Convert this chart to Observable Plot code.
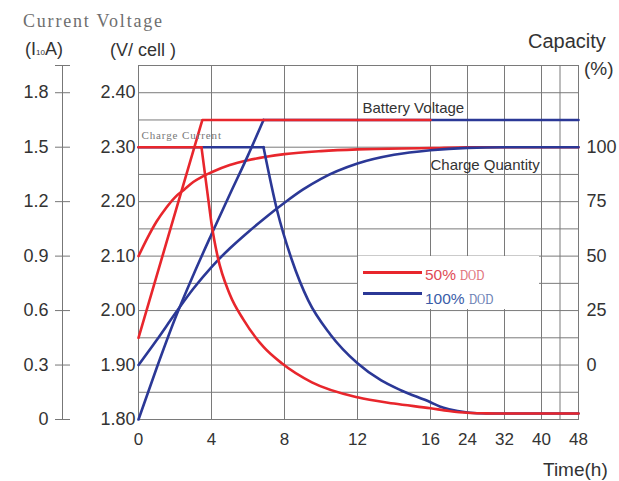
<!DOCTYPE html>
<html><head><meta charset="utf-8">
<script src="https://cdn.jsdelivr.net/npm/d3@7"></script>
<script src="https://cdn.jsdelivr.net/npm/@observablehq/plot@0.6"></script>
<style>
body{margin:0;background:#fff;}
#wrap{position:relative;width:619px;height:481px;font-family:"Liberation Sans",Arial,sans-serif;color:#333;overflow:hidden;}
#wrap svg{position:absolute;left:0;top:0;}
.lbl{position:absolute;white-space:nowrap;line-height:1;}
.serif{font-family:"Liberation Serif","DejaVu Serif",serif;}
.dod{display:inline-block;font-size:14px;transform:scaleX(0.8);transform-origin:left center;}
.sw{position:absolute;height:3px;}
</style></head><body><div id="wrap"></div>
<script>
// ---- data ----
const timeTicks = [0, 4, 8, 12, 16, 24, 32, 40, 48];
const gridTimes = [0, 4, 8, 12, 16, 24, 32, 40, 44, 48];
const voltTicks = [1.80, 1.90, 2.00, 2.10, 2.20, 2.30, 2.40];
const voltGrid = [1.80, 1.85, 1.90, 1.95, 2.00, 2.05, 2.10, 2.15, 2.20, 2.25, 2.30, 2.35, 2.40, 2.45];
const currentTicks = [0, 0.3, 0.6, 0.9, 1.2, 1.5, 1.8];
const capacityTicks = [0, 25, 50, 75, 100];

const redVoltageTime = [0, 3.5, 16];
const redVoltage = [1.95, 2.35, 2.35];
const blueVoltageTime = [0, 1, 2, 3, 4, 5, 6, 6.85, 48];
const blueVoltage = [1.80, 1.895, 1.985, 2.065, 2.14, 2.213, 2.285, 2.35, 2.35];

const redCurrentTime = [0, 3.45, 3.84, 4.0, 4.33, 5, 5.75, 6.85, 7.85, 9.5, 12, 14, 16, 20, 24, 28, 32, 48];
const redCurrent = [1.5, 1.5, 1.2, 1.08, 0.9, 0.69, 0.55, 0.40, 0.31, 0.205, 0.122, 0.088, 0.062, 0.047, 0.037, 0.034, 0.033, 0.033];
const blueCurrentTime = [0, 6.85, 7.6, 8.4, 9.3, 10.5, 12, 13.3, 14.4, 16, 18, 20, 24, 28, 48];
const blueCurrent = [1.5, 1.5, 1.15, 0.88, 0.656, 0.47, 0.31, 0.215, 0.16, 0.095, 0.072, 0.057, 0.039, 0.033, 0.033];

const redChargeTime = [0, 0.5, 1, 1.5, 2, 2.5, 3, 3.5, 4, 5, 6, 7, 8, 10, 12, 16, 24, 48];
const redCharge = [50, 58.5, 66, 72, 77, 80.5, 84, 86.5, 88.5, 91.8, 94, 95.6, 96.8, 98.2, 99, 99.6, 100, 100];
const blueChargeTime = [0, 1, 2, 3, 4, 5, 6, 7, 8, 9, 10, 12, 14, 16, 24, 32, 48];
const blueCharge = [0, 11.5, 23.5, 35, 45, 53.5, 61, 68, 74.5, 80.5, 85.5, 92.5, 96.5, 98.6, 99.7, 100, 100];

const annotations = [
  {text: "Battery Voltage", t: 12.27, v: 2.371, serif: false},
  {text: "Charge Quantity", t: 16.0, v: 2.267, serif: false},
  {text: "Charge Current", t: 0.16, v: 2.322, serif: true}
];

// ---- unit conversions onto the voltage axis ----
const ampToV = a => 1.80 + a / 3;       // 0 A -> 1.80 V, 1.5 A -> 2.30 V
const capToV = c => 1.90 + c / 250;     // 0 % -> 1.90 V, 100 % -> 2.30 V
const rows = (ts, vs, f = v => v) => ts.map((t, i) => ({t, v: f(vs[i])}));

const RED = "#e8262c", BLUE = "#2b3896";
const W = 619, H = 481, mL = 138, mR = 41, mT = 65, mB = 62;

const rV = rows(redVoltageTime, redVoltage);
const bV = rows(blueVoltageTime, blueVoltage);
const rI = rows(redCurrentTime, redCurrent, ampToV);
const bI = rows(blueCurrentTime, blueCurrent, ampToV);
const rQ = rows(redChargeTime, redCharge, capToV);
const bQ = rows(blueChargeTime, blueCharge, capToV);

const lw = 2.6;
const chart = Plot.plot({
  width: W, height: H,
  marginLeft: mL, marginRight: mR, marginTop: mT, marginBottom: mB,
  style: {fontFamily: "'Liberation Sans', Arial, sans-serif", color: "#333", background: "transparent", overflow: "visible"},
  x: {type: "linear", domain: [0, 16, 48], range: [mL, 430, W - mR]},
  y: {type: "linear", domain: [1.80, 2.45]},
  marks: [
    Plot.gridX(gridTimes, {stroke: "#7a7a7a", strokeOpacity: 1, strokeWidth: 1}),
    Plot.gridY(voltGrid, {stroke: "#7a7a7a", strokeOpacity: 1, strokeWidth: 1}),
    Plot.frame({stroke: "#7a7a7a", strokeWidth: 1}),
    // time axis
    Plot.axisX(timeTicks, {tickSize: 0, tickPadding: 13, fontSize: 17, label: null, tickFormat: d => String(d)}),
    // voltage axis
    Plot.axisY(voltTicks, {anchor: "left", tickSize: 0, tickPadding: 3, fontSize: 18, label: null, tickFormat: d => d.toFixed(2)}),
    // current axis (outer left)
    Plot.frame({anchor: "left", dx: -76, stroke: "#777", strokeWidth: 1}),
    Plot.axisY([...currentTicks.map(ampToV), 2.45], {anchor: "left", tickSize: 15, dx: -68, tickPadding: 7, fontSize: 18, label: null, stroke: "#777",
      tickFormat: v => { const a = Math.round((v - 1.8) * 30) / 10; return a > 1.8 ? "" : String(a); }}),
    // capacity axis (right)
    Plot.axisY(capacityTicks.map(capToV), {anchor: "right", tickSize: 0, tickPadding: 8, fontSize: 18, label: null,
      tickFormat: v => String(Math.round((v - 1.9) * 250))}),
    // charge quantity
    Plot.line(rQ, {x: "t", y: "v", stroke: RED, strokeWidth: lw, curve: "monotone-x"}),
    Plot.line(bQ, {x: "t", y: "v", stroke: BLUE, strokeWidth: lw, curve: "monotone-x"}),
    // battery voltage
    Plot.line(bV.slice(0, 8), {x: "t", y: "v", stroke: BLUE, strokeWidth: lw, curve: "monotone-x"}),
    Plot.line(bV.slice(7), {x: "t", y: "v", stroke: BLUE, strokeWidth: lw}),
    Plot.line(rV, {x: "t", y: "v", stroke: RED, strokeWidth: lw}),
    // charge current
    Plot.line(bI.slice(0, 2), {x: "t", y: "v", stroke: BLUE, strokeWidth: lw}),
    Plot.line(bI.slice(1), {x: "t", y: "v", stroke: BLUE, strokeWidth: lw, curve: "monotone-x"}),
    Plot.line(rI.slice(0, 2), {x: "t", y: "v", stroke: RED, strokeWidth: lw}),
    Plot.line(rI.slice(1), {x: "t", y: "v", stroke: RED, strokeWidth: lw, curve: "monotone-x"}),
    // annotations
    Plot.text(annotations.filter(d => !d.serif), {x: "t", y: "v", text: "text", textAnchor: "start", fontSize: 15, fill: "#333"}),
    Plot.text(annotations.filter(d => d.serif), {x: "t", y: "v", text: "text", textAnchor: "start", fontSize: 11, fill: "#777",
      fontFamily: "'Liberation Serif', serif", className: "sernote"})
  ]
});
const wrap = document.getElementById("wrap");
wrap.appendChild(chart);

const style = document.createElement("style");
style.textContent = ".sernote text{letter-spacing:0.9px}";
document.head.appendChild(style);

function label(html, css, cls = "lbl") {
  const d = document.createElement("div");
  d.className = cls;
  d.innerHTML = html;
  Object.assign(d.style, css);
  wrap.appendChild(d);
  return d;
}
// axis titles
label("Current Voltage", {left: "23px", top: "12px", fontSize: "18px", color: "#6e6e6e", letterSpacing: "1.8px", fontFamily: "'Liberation Serif', serif"});
label("(I<span style='font-size:8px'>10</span>A)", {left: "25px", top: "40px", fontSize: "18px"});
label("(V/ cell )", {left: "110px", top: "41px", fontSize: "18px"});
label("Capacity", {left: "528px", top: "31px", fontSize: "20px"});
label("(%)", {left: "584px", top: "59px", fontSize: "19px"});
label("Time(h)", {left: "543px", top: "460px", fontSize: "19px"});

// legend
label("", {left: "358px", top: "256px", width: "181px", height: "53px", background: "#fff"}, "lbl");
label("", {left: "363px", top: "270.5px", width: "59px", background: RED}, "sw");
label("", {left: "363px", top: "292px", width: "59px", background: BLUE}, "sw");
label("50% <span class='serif dod' style='color:#e0707a'>DOD</span>", {left: "425px", top: "267px", fontSize: "15.5px", color: "#e04a55"});
label("100% <span class='serif dod' style='color:#6a80b4'>DOD</span>", {left: "425px", top: "291px", fontSize: "15.5px", color: "#3a5ca8"});
</script>
</body></html>
